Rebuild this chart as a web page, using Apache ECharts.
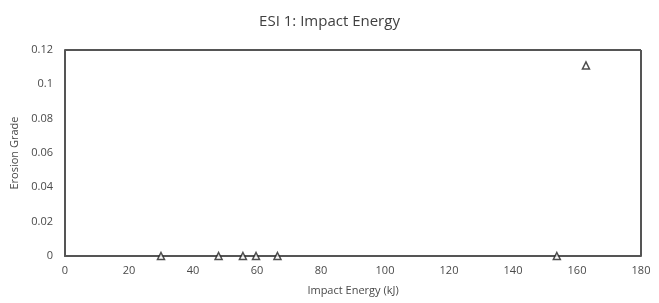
<!DOCTYPE html>
<html>
<head>
<meta charset="utf-8">
<script src="https://cdn.jsdelivr.net/npm/echarts@6/dist/echarts.min.js"></script>
<style>
  html, body { margin: 0; padding: 0; background: #fff; }
  #chart { width: 659px; height: 303px; }
</style>
</head>
<body>
<div id="chart"></div>
<script>
// impact energy (kJ) vs erosion grade
const energy = [30, 48, 55.6, 59.7, 66.4, 153.7, 162.8];
const erosion = [0, 0, 0, 0, 0, 0, 0.111];

const font = "'Open Sans', 'Liberation Sans', sans-serif";
const axisColor = "#555555";

const chart = echarts.init(document.getElementById("chart"));
chart.setOption({
  animation: false,
  title: {
    text: "ESI 1: Impact Energy",
    left: "center",
    top: 9,
    textStyle: { fontFamily: font, fontSize: 15, fontWeight: "normal", color: "#404040" }
  },
  grid: { left: 65, right: 18, top: 50, bottom: 47 },
  xAxis: {
    type: "value",
    min: 0,
    max: 180,
    interval: 20,
    name: "Impact Energy (kJ)",
    nameLocation: "middle",
    nameGap: 29,
    nameTextStyle: { fontFamily: font, fontSize: 11, color: "#4a4a4a" },
    axisLine: { show: true, lineStyle: { color: axisColor, width: 2 } },
    axisTick: { show: false },
    splitLine: { show: false },
    axisLabel: { fontFamily: font, fontSize: 11, color: "#4a4a4a", margin: 9 }
  },
  yAxis: {
    type: "value",
    min: 0,
    max: 0.12,
    interval: 0.02,
    name: "Erosion Grade",
    nameLocation: "middle",
    nameGap: 42,
    nameTextStyle: { fontFamily: font, fontSize: 11, color: "#4a4a4a" },
    axisLine: { show: true, lineStyle: { color: axisColor, width: 2 } },
    axisTick: { show: false },
    splitLine: { show: false },
    axisLabel: { fontFamily: font, fontSize: 11, color: "#4a4a4a", margin: 12 }
  },
  series: [
    {
      type: "scatter",
      data: energy.map((e, i) => [e, erosion[i]]),
      symbol: "triangle",
      symbolSize: 7,
      itemStyle: { color: "#fff", borderColor: "#222", borderWidth: 1.5 },
      z: 5
    },
    {
      // frame on top and right like the plot border
      type: "line",
      data: [],
      markLine: {
        silent: true,
        symbol: "none",
        label: { show: false },
        lineStyle: { color: axisColor, width: 2, type: "solid" },
        data: [
          [{ coord: [0, 0.12] }, { coord: [180, 0.12] }],
          [{ coord: [180, 0] }, { coord: [180, 0.12] }]
        ]
      }
    }
  ]
});
</script>
</body>
</html>
